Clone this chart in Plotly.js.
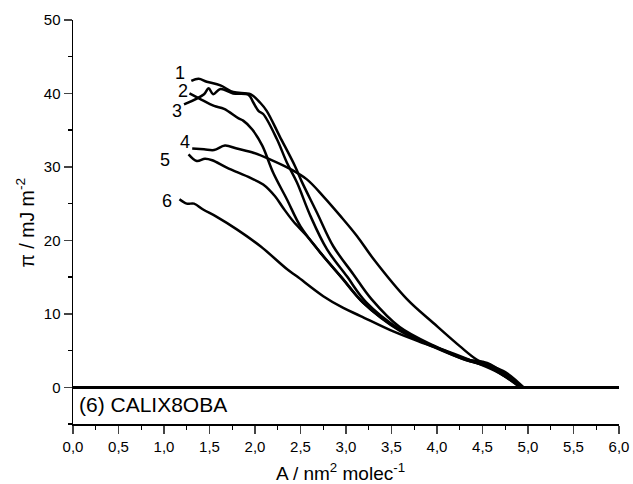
<!DOCTYPE html>
<html><head><meta charset="utf-8">
<script src="https://cdn.plot.ly/plotly-3.0.1.min.js"></script>
<style>html,body{margin:0;padding:0;background:#fff}#chart{width:633px;height:484px}</style>
</head><body><div id="chart"></div>
<script>
const curve1X = [1.30,1.38,1.47,1.62,1.76,1.95,2.06,2.13,2.27,2.44,2.51,2.68,2.86,3.08,3.28,3.59,3.96,4.33,4.55,4.77,4.93];
const curve1Y = [41.7,42.0,41.6,41.1,40.2,39.9,38.7,37.6,34.2,30.1,28.1,23.8,19.2,15.4,12.0,8.2,5.7,3.8,3.3,1.6,0.0];
const curve2X = [1.28,1.39,1.55,1.66,1.82,1.87,1.97,2.08,2.20,2.35,2.50,2.72,2.94,3.19,3.59,3.96,4.32,4.54,4.76,4.93];
const curve2Y = [40.0,39.3,38.3,37.9,36.6,36.3,35.1,32.9,29.2,25.6,21.9,18.3,15.1,11.5,7.7,5.5,3.7,2.9,1.4,0.0];
const curve3X = [1.22,1.44,1.49,1.54,1.62,1.76,1.93,1.98,2.04,2.09,2.24,2.35,2.46,2.61,2.79,3.01,3.22,3.59,3.96,4.33,4.55,4.77,4.93];
const curve3Y = [38.5,39.9,40.7,39.9,40.6,40.0,39.8,38.8,37.6,37.2,33.8,30.6,27.9,23.3,18.8,15.1,11.6,7.9,5.6,3.8,3.2,1.5,0.0];
const curve4X = [1.31,1.44,1.55,1.67,1.80,1.99,2.17,2.39,2.57,2.75,2.94,3.12,3.30,3.67,3.96,4.25,4.44,4.62,4.77,4.88,4.95];
const curve4Y = [32.5,32.4,32.3,32.9,32.5,31.9,31.0,29.7,28.3,26.0,23.3,20.6,17.5,12.0,8.75,5.6,3.75,2.8,1.9,0.8,0.0];
const curve5X = [1.27,1.36,1.45,1.53,1.69,1.95,2.09,2.22,2.31,2.42,2.57,2.72,2.97,3.19,3.59,3.96,4.32,4.54,4.76,4.92];
const curve5Y = [31.7,30.8,31.1,30.9,29.9,28.5,27.6,26.0,24.4,22.6,20.6,18.3,14.7,11.5,7.8,5.6,3.7,3.0,1.4,0.0];
const curve6X = [1.17,1.25,1.33,1.43,1.58,1.80,2.06,2.35,2.46,2.75,2.97,3.16,3.52,3.81,4.11,4.40,4.69,4.91];
const curve6Y = [25.6,25.0,25.0,24.2,23.2,21.5,19.2,16.1,15.1,12.4,10.8,9.7,7.6,6.2,4.9,3.5,1.9,0.0];
const labelText = ["1","2","3","4","5","6"];
const labelX = [1.18,1.21,1.14,1.23,1.01,1.03];
const labelY = [42.8,40.3,37.6,33.4,31.0,25.4];
const xTickVals = [0,0.5,1,1.5,2,2.5,3,3.5,4,4.5,5,5.5,6];
const xTickText = ["0,0","0,5","1,0","1,5","2,0","2,5","3,0","3,5","4,0","4,5","5,0","5,5","6,0"];
const yTickVals = [0,10,20,30,40,50];
const sampleName = "(6) CALIX8OBA";
const xTitle = 'A / nm<sup>2</sup> molec<sup>-1</sup>';
const yTitle = 'π / mJ m<sup>-2</sup>';

const xs=[curve1X,curve2X,curve3X,curve4X,curve5X,curve6X];
const ys=[curve1Y,curve2Y,curve3Y,curve4Y,curve5Y,curve6Y];
const traces = xs.map((x,i)=>({x:x,y:ys[i],type:'scatter',mode:'lines',
  line:{color:'#000',width:2.5,shape:'spline',smoothing:1},hoverinfo:'skip'}));
const F="'Liberation Sans', Arial, sans-serif";
const ann = labelText.map((t,i)=>({x:labelX[i],y:labelY[i],text:t,showarrow:false,
  xanchor:'center',yanchor:'middle',font:{family:F,size:18,color:'#000'}}));
ann.push({x:0.04,y:-2.4,text:sampleName,showarrow:false,xanchor:'left',yanchor:'middle',
  font:{family:F,size:21,color:'#000'}});
ann.push({xref:'paper',yref:'paper',x:0.49,y:-0.118,text:xTitle,showarrow:false,
  xanchor:'center',yanchor:'middle',font:{family:F,size:19,color:'#000'}});
ann.push({xref:'paper',yref:'paper',x:-0.087,y:0.5,text:yTitle,showarrow:false,textangle:-90,
  xanchor:'center',yanchor:'middle',font:{family:F,size:19.5,color:'#000'}});
const layout={
  width:633,height:484,margin:{l:72.5,r:14,t:20,b:60},
  paper_bgcolor:'#fff',plot_bgcolor:'#fff',showlegend:false,
  font:{family:F,color:'#000'},
  xaxis:{range:[0,6],tickvals:xTickVals,ticktext:xTickText,ticks:'outside',ticklen:8,tickwidth:1.4,
    showline:true,linewidth:1.5,linecolor:'#000',showgrid:false,zeroline:false,
    tickfont:{family:F,size:15},
    minor:{dtick:0.25,tick0:0,ticks:'outside',ticklen:4,tickwidth:1.4,tickcolor:'#000',showgrid:false}},
  yaxis:{range:[-5,50],tickvals:yTickVals,ticks:'outside',ticklen:8,tickwidth:1.4,
    showline:true,linewidth:1.5,linecolor:'#000',showgrid:false,
    zeroline:true,zerolinewidth:2.6,zerolinecolor:'#000',
    tickfont:{family:F,size:15},
    minor:{dtick:5,tick0:0,ticks:'outside',ticklen:4,tickwidth:1.4,tickcolor:'#000',showgrid:false}},
  annotations:ann
};
Plotly.newPlot('chart',traces,layout,{staticPlot:true});
</script></body></html>
